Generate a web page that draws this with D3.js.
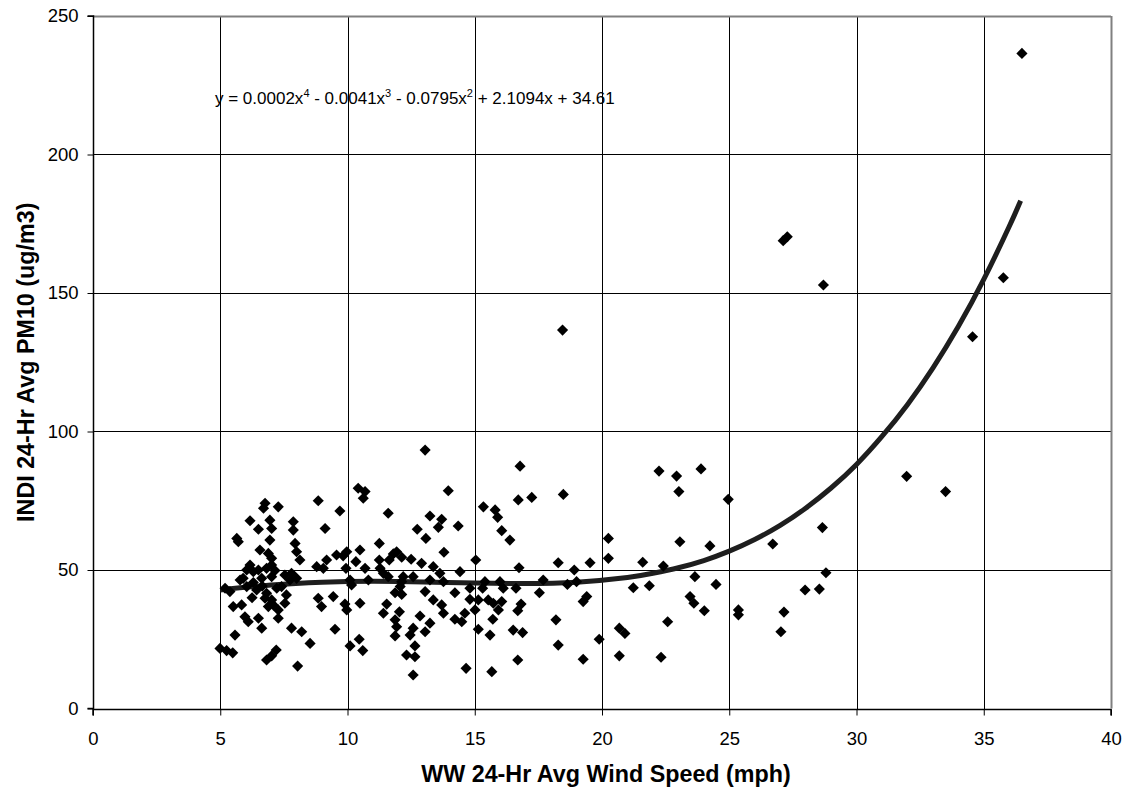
<!DOCTYPE html>
<html>
<head>
<meta charset="utf-8">
<script src="https://cdn.jsdelivr.net/npm/d3@7"></script>
<style>
  html, body { margin: 0; padding: 0; background: #fff; }
  svg { display: block; }
  text { font-family: Arial, "Liberation Sans", sans-serif; fill: #000; }
</style>
</head>
<body>
<svg id="chart" width="1124" height="791"></svg>
<script>
// ---- Data ----
const windSpeed = [
  6.76,6.70,7.28,8.85,6.17,6.95,6.50,7.02,7.87,7.87,9.12,5.65,5.71,6.95,7.94,8.00,8.13,6.56,6.89,7.02,
  8.79,9.18,9.05,9.57,6.17,6.04,6.30,6.50,6.82,7.02,5.90,6.63,7.02,7.54,7.80,8.00,7.74,5.19,5.38,5.78,
  6.04,6.43,6.82,7.22,7.41,6.76,7.02,7.08,6.89,5.51,5.84,7.54,7.28,8.85,8.98,5.97,6.10,6.50,6.63,7.28,
  7.80,8.20,5.58,9.51,4.99,5.25,5.49,6.82,7.02,7.20,8.04,8.53,6.30,6.65,7.15,6.25,7.60,
  13.05,16.78,10.42,10.69,10.62,13.96,16.71,17.24,18.48,9.70,11.60,13.24,13.70,13.57,14.35,12.74,13.08,15.34,15.80,15.90,
  16.06,16.38,11.25,13.79,10.49,9.97,9.83,10.33,10.69,11.25,11.80,11.93,12.13,12.50,11.64,12.91,13.37,14.42,15.04,16.74,
  18.28,18.91,19.53,9.94,11.28,11.41,11.60,13.63,13.77,10.10,10.16,10.82,12.13,12.58,12.19,13.24,15.40,15.99,17.69,19.00,
  18.64,9.44,9.90,9.97,10.49,11.87,12.13,12.07,13.05,14.22,14.81,14.81,15.14,15.31,15.01,15.53,15.73,16.06,16.12,16.62,
  17.54,16.69,16.82,19.26,19.40,11.41,11.54,12.04,11.87,11.93,11.87,12.46,12.58,12.85,13.24,13.05,14.22,14.49,14.61,15.14,
  15.60,15.71,15.93,16.51,16.88,18.19,18.28,19.26,10.10,10.46,10.60,12.32,12.65,12.58,12.65,14.66,15.67,16.69,18.45,13.37,
  13.70,13.77,
  20.25,20.25,22.24,22.93,23.89,23.02,24.96,28.66,23.06,24.24,26.71,21.60,22.41,23.65,24.48,21.23,21.86,28.80,27.98,28.54,
  23.46,23.61,24.02,25.36,25.36,27.15,27.03,22.58,20.68,20.90,19.89,20.68,22.32,31.97,33.50,27.12,27.28,28.70,35.77,34.56,
  36.50
];
const pm10 = [
  74.1,72.3,72.8,75.0,67.8,68.0,64.7,65.0,67.4,64.4,65.0,61.4,60.2,60.8,59.6,56.6,53.6,57.2,56.0,54.2,
  51.2,53.6,50.6,55.4,51.8,50.0,49.4,50.0,50.6,51.8,47.0,47.0,47.6,48.2,48.8,47.0,46.4,43.4,42.2,46.4,
  44.0,42.8,41.6,43.4,44.0,39.8,39.2,37.4,36.8,36.8,37.4,38.0,35.6,39.8,36.8,33.1,31.3,32.6,29.0,32.6,
  29.0,27.7,26.5,28.6,21.7,20.9,20.1,17.5,19.0,21.1,15.3,23.5,45.5,44.2,49.8,40.0,41.0,
  93.3,87.5,79.5,78.3,75.9,78.6,75.3,76.2,77.3,71.3,70.5,69.5,68.3,65.4,65.9,64.7,61.4,72.8,71.7,69.0,
  64.2,60.8,59.6,56.4,57.2,56.6,55.1,53.0,50.6,53.6,55.8,56.6,54.6,53.9,53.6,52.4,51.2,49.4,53.6,50.8,
  52.6,50.0,52.6,50.6,50.6,48.8,47.6,48.8,45.8,46.4,44.6,46.4,45.8,47.6,47.6,46.4,45.8,45.8,46.4,45.8,
  44.8,40.4,37.7,35.6,38.0,41.8,41.2,44.0,42.2,41.8,43.4,39.4,39.2,43.4,35.6,39.2,38.0,38.6,43.4,43.4,
  41.8,35.3,37.7,38.6,40.4,34.4,37.7,34.9,32.0,29.5,26.2,26.5,29.0,33.4,30.8,27.7,32.2,31.3,34.4,28.6,
  26.5,32.2,35.6,28.3,27.4,32.0,22.9,17.8,22.6,25.0,20.9,19.3,18.7,12.1,22.6,14.5,13.3,17.5,136.6,39.2,
  37.4,34.4,
  61.4,54.2,85.7,83.9,86.5,78.3,75.5,65.3,60.2,58.7,59.4,52.8,51.4,47.6,44.8,43.6,44.3,49.0,42.8,43.1,
  40.4,38.0,35.3,35.6,33.8,34.8,27.7,31.3,29.0,27.1,25.0,19.0,18.5,83.8,78.3,168.9,170.3,152.9,155.5,134.2,
  236.5
];

// 4th-order polynomial trend line
const trendX = [5, 7, 9, 11, 13, 15, 17, 19, 21, 22, 23, 24, 25, 26, 27, 28, 29, 30, 31, 32, 33, 34, 35, 36, 36.45];
const trendY = [42.8, 44.6, 45.6, 45.9, 45.7, 45.3, 45.1, 45.6, 47.3, 48.8, 50.8, 53.4, 56.8, 61.0, 66.1, 72.3, 79.6, 88.1, 98.2, 109.7, 122.9, 137.9, 154.9, 174.0, 183.3];

const xTicks = [0, 5, 10, 15, 20, 25, 30, 35, 40];
const yTicks = [0, 50, 100, 150, 200, 250];

const xTitle = "WW 24-Hr Avg Wind Speed (mph)";
const yTitle = "INDI 24-Hr Avg PM10 (ug/m3)";
const equationParts = ["y = 0.0002x", "4", " - 0.0041x", "3", " - 0.0795x", "2", " + 2.1094x + 34.61"];

// ---- Layout ----
const svg = d3.select("#chart");
const L = 93, R = 1111, T = 16, B = 708.5;

const x = d3.scaleLinear().domain([0, 40]).range([L, R]);
const y = d3.scaleLinear().domain([0, 250]).range([B, T]);

svg.append("rect").attr("width", 1124).attr("height", 791).attr("fill", "#fff");

// gridlines
const grid = svg.append("g").attr("shape-rendering", "crispEdges");
grid.selectAll("line.v").data(xTicks.slice(1, -1)).join("line")
  .attr("x1", d => Math.round(x(d)) + 0.5).attr("x2", d => Math.round(x(d)) + 0.5)
  .attr("y1", T).attr("y2", B)
  .attr("stroke", "#000").attr("stroke-width", 1);
grid.selectAll("line.h").data(yTicks.slice(1)).join("line")
  .attr("x1", L).attr("x2", R)
  .attr("y1", d => Math.round(y(d)) + 0.5).attr("y2", d => Math.round(y(d)) + 0.5)
  .attr("stroke", "#000").attr("stroke-width", 1);

// plot border (right, top grey)
svg.append("line").attr("x1", Math.round(R) + 0.5).attr("x2", Math.round(R) + 0.5)
  .attr("y1", T).attr("y2", B).attr("stroke", "#808080").attr("stroke-width", 2);
svg.append("line").attr("x1", L).attr("x2", R)
  .attr("y1", Math.round(T) + 0.5).attr("y2", Math.round(T) + 0.5)
  .attr("stroke", "#808080").attr("stroke-width", 2);

// axes
const xAxis = d3.axisBottom(x).tickValues(xTicks).tickSize(6).tickPadding(16).tickFormat(d3.format("d"));
const yAxis = d3.axisLeft(y).tickValues(yTicks).tickSize(6).tickPadding(9).tickFormat(d3.format("d"));

const gx = svg.append("g").attr("transform", `translate(0,${Math.round(B) + 0.5})`).call(xAxis);
const gy = svg.append("g").attr("transform", `translate(${Math.round(L) + 0.5},0)`).call(yAxis);
[gx, gy].forEach(g => {
  g.select(".domain").attr("stroke", "#000").attr("stroke-width", 1.5);
  g.selectAll(".tick line").attr("stroke", "#000").attr("stroke-width", 1);
  g.selectAll(".tick text").attr("font-size", 18.5).attr("font-family", "Arial, 'Liberation Sans', sans-serif").attr("fill", "#000");
});
gx.select(".domain").attr("d", `M${L},6V0H${R}V6`);
gy.select(".domain").attr("d", `M-6,${T}H0V${B}H-6`);

// trend line
const line = d3.line().x(d => x(d[0])).y(d => y(d[1])).curve(d3.curveNatural);
const trend = trendX.map((v, i) => [v, trendY[i]]);
svg.append("path").datum(trend)
  .attr("d", line)
  .attr("fill", "none")
  .attr("stroke", "#1e1e1e")
  .attr("stroke-width", 5)
  .attr("stroke-linecap", "butt");

// points (diamonds)
const pts = windSpeed.map((v, i) => [v, pm10[i]]);
const diamond = d3.symbol().type(d3.symbolSquare).size(62);
svg.append("g").selectAll("path").data(pts).join("path")
  .attr("d", diamond)
  .attr("transform", d => `translate(${x(d[0])},${y(d[1])}) rotate(45)`)
  .attr("fill", "#000");

// equation
const eq = svg.append("text").attr("x", 215).attr("y", 104).attr("font-size", 17);
let raised = false;
equationParts.forEach((t, i) => {
  const sup = i % 2 === 1;
  const ts = eq.append("tspan").text(t).attr("font-size", sup ? 11 : 17);
  if (sup) { ts.attr("dy", -7); raised = true; }
  else if (raised) { ts.attr("dy", 7); raised = false; }
});

// axis titles
svg.append("text")
  .attr("x", (L + R) / 2 + 4).attr("y", 782)
  .attr("text-anchor", "middle").attr("font-weight", "bold").attr("font-size", 23.3)
  .text(xTitle);
svg.append("text")
  .attr("transform", `translate(34,${(T + B) / 2}) rotate(-90)`)
  .attr("text-anchor", "middle").attr("font-weight", "bold").attr("font-size", 23.3)
  .text(yTitle);
</script>
</body>
</html>
